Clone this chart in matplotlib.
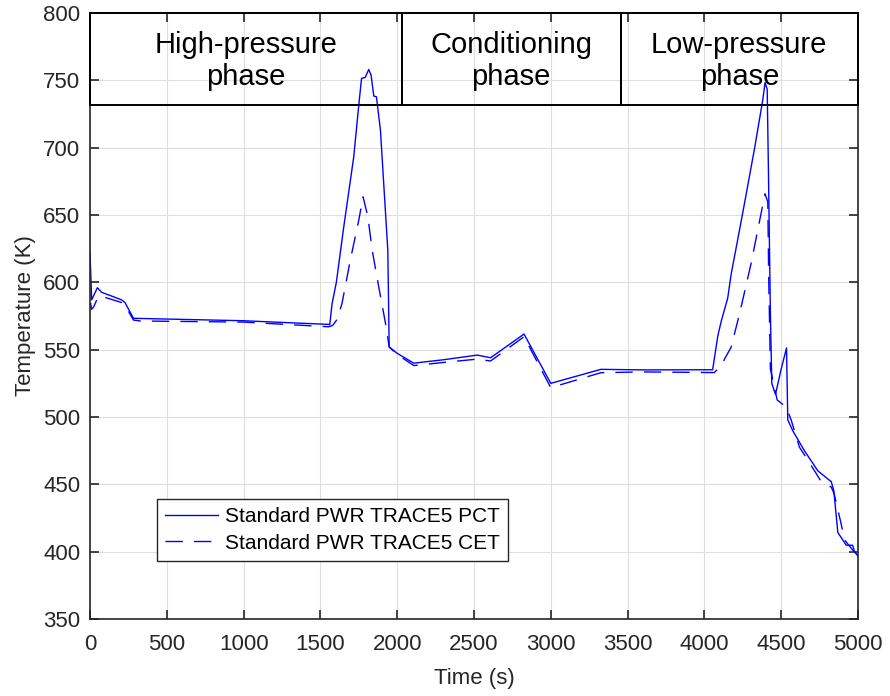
import matplotlib
matplotlib.use("Agg")
import matplotlib.pyplot as plt
from matplotlib.patches import Rectangle

plt.rcParams['font.family'] = ['Liberation Sans', 'DejaVu Sans']

# ---- data ----
pct_t = [0, 11, 48, 76, 206, 228, 283, 600, 1000, 1300, 1554, 1561, 1576, 1604, 1652,
         1717, 1750, 1768, 1792, 1815, 1830, 1848, 1865, 1891, 1939, 1948, 2000, 2108,
         2300, 2522, 2608, 2826, 3000, 3326, 3600, 4054, 4087, 4109, 4152, 4174, 4250,
         4326, 4380, 4395, 4409, 4417, 4430, 4439, 4463, 4500, 4535, 4543, 4576, 4652,
         4739, 4826, 4843, 4869, 4924, 4965, 4978, 5000]
pct_T = [622.7, 587, 596, 592.6, 587, 585, 573.3, 572.5, 571.5, 570, 568.8, 568.5, 584,
         600, 641, 693, 731.6, 751.4, 752.2, 758.1, 753.9, 738.3, 737.8, 713, 624, 552,
         547.3, 540, 542.5, 546, 544, 561.6, 525, 535.4, 535, 535.1, 559.9, 570.8, 588.3,
         605.8, 651.7, 699, 735.3, 748.3, 743.5, 684, 576, 524.9, 516.8, 535.6, 551.3,
         497.9, 489.7, 474.9, 460, 452, 445.2, 414.2, 404.8, 404.8, 400, 396.7]

cet_t = [3, 11, 25, 48, 65, 206, 228, 283, 330, 1000, 1554, 1580, 1609, 1641, 1695,
         1750, 1778, 1804, 1815, 1837, 1880, 1924, 1948, 2000, 2108, 2300, 2522, 2608,
         2826, 3000, 3326, 3600, 4065, 4109, 4174, 4228, 4304, 4370, 4395, 4413, 4419,
         4430, 4474, 4532, 4565, 4619, 4674, 4761, 4826, 4845, 4887, 4913, 4960, 5000]
cet_T = [585, 580, 582, 588, 590, 585, 583, 572, 571.3, 570.5, 567, 568, 572.5, 584.4,
         616.6, 646.2, 663.5, 651.2, 643.8, 624, 596.7, 569.6, 552, 546.5, 538.2, 540.5,
         543, 541.6, 559.6, 521.8, 532.9, 533.5, 533, 538.4, 551.8, 576.2, 613.9, 651.7,
         665.7, 659.8, 603, 535.6, 512.7, 507.4, 497.9, 477.6, 468, 452, 448, 443, 422.4,
         408.8, 402, 397]

phase_names = ["High-pressure\nphase", "Conditioning\nphase", "Low-pressure\nphase"]
phase_edges = [0, 2030, 3455, 5000]
box_bottom = 732

labels = ["Standard PWR TRACE5 PCT", "Standard PWR TRACE5 CET"]
x_ticks = list(range(0, 5001, 500))
y_ticks = list(range(350, 801, 50))

# ---- figure ----
fig = plt.figure(figsize=(8.9, 6.96), dpi=100)
ax = fig.add_axes([0.1011, 0.1106, 0.8629, 0.8707])

ax.plot(pct_t, pct_T, color='#0000ff', lw=1.0, label=labels[0])
ax.plot(cet_t, cet_T, color='#0000ff', lw=1.0, dashes=(12.5, 8), label=labels[1])

ax.set_xlim(0, 5000)
ax.set_ylim(350, 800)
ax.set_xticks(x_ticks)
ax.set_yticks(y_ticks)
ax.grid(True, color='#dedede', lw=0.8)
ax.set_axisbelow(True)
ax.tick_params(direction='in', length=6.5, width=1.2, top=True, right=True,
               labelsize=16, colors='#262626', labelcolor='#262626')
ax.tick_params(axis='x', pad=11)
ax.tick_params(axis='y', pad=7)
for s in ax.spines.values():
    s.set_linewidth(1.2)
    s.set_color('#262626')

ax.set_xlabel("Time (s)", fontsize=16, color='#262626', labelpad=9)
ax.set_ylabel("Temperature (K)", fontsize=16, color='#262626', labelpad=5)

for i, name in enumerate(phase_names):
    x0, x1 = phase_edges[i], phase_edges[i + 1]
    ax.add_patch(Rectangle((x0, box_bottom), x1 - x0, 800 - box_bottom, fill=False,
                           edgecolor='black', lw=1.4, zorder=5, clip_on=False))
    ax.text((x0 + x1) / 2, (box_bottom + 800) / 2 - 1.5, name, ha='center', va='center',
            fontsize=21, linespacing=1.2, zorder=6, color='black')

leg = ax.legend(loc='lower left', bbox_to_anchor=(0.087, 0.096), borderaxespad=0,
                fontsize=15, frameon=True, fancybox=False, framealpha=1,
                edgecolor='#262626', handlelength=2.55, handletextpad=0.3,
                labelspacing=0.35, borderpad=0.4)
leg.get_frame().set_linewidth(1.0)

fig.savefig("out.png", dpi=100)
